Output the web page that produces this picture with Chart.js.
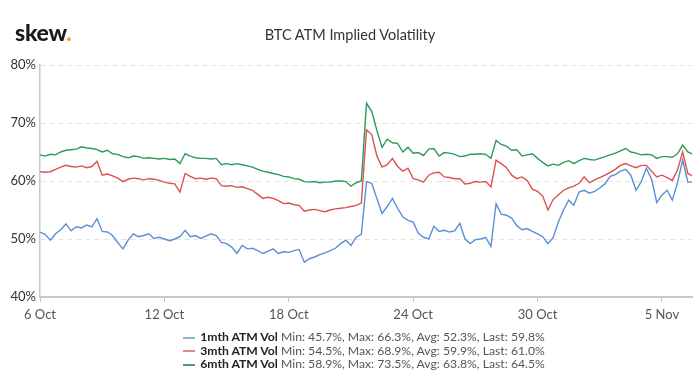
<!DOCTYPE html>
<html>
<head>
<meta charset="utf-8">
<script src="https://cdn.jsdelivr.net/npm/chart.js@4.4.0/dist/chart.umd.min.js"></script>
<style>
    html, body { margin: 0; padding: 0; background: #fff; }
    #wrap { position: relative; width: 700px; height: 391px; font-family: Lato, sans-serif; }
    #logo { position: absolute; left: 15px; top: 18px; font-family: Lato, sans-serif; font-weight: 900; font-size: 23px; color: #1a1a1a; letter-spacing: -0.3px; }
    #logo span { color: #f5a623; }
    #title { position: absolute; left: 0; width: 700px; top: 26px; text-align: center; font-size: 14.5px; color: #333; }
    #chartBox { position: absolute; left: 0; top: 0; width: 700px; height: 330px; }
    #legend { position: absolute; left: 0; width: 700px; top: 330px; text-align: center; font-size: 12.2px; color: #555; }
    #legend .row { display: block; line-height: 13.5px; white-space: nowrap; }
    #legend .item { display: inline-block; text-align: left; margin-left: 28px; }
    #legend .mark { display: inline-block; width: 12px; height: 2px; vertical-align: middle; margin-right: 5px; }
    #legend b { color: #222; }
</style>
</head>
<body>
<div id="wrap">
    <div id="chartBox"><canvas id="volChart" width="700" height="330"></canvas></div>
    <div id="logo">skew<span>.</span></div>
    <div id="title">BTC ATM Implied Volatility</div>
    <div id="legend"></div>
</div>
<script>
// days since 6 Oct, sampled every 6 hours
const dayStep = 0.25;

const oneMth = [
    51.2, 50.8, 49.8, 50.9, 51.6, 52.6, 51.4, 52.1, 51.9, 52.4, 52.1, 53.5,
    51.3, 51.2, 50.6, 49.4, 48.3, 49.8, 50.9, 50.4, 50.6, 50.9, 50.1, 50.3,
    50.0, 49.7, 50.0, 50.4, 51.5, 50.4, 50.6, 50.1, 50.5, 50.9, 50.6, 49.4,
    49.2, 48.6, 47.5, 48.9, 48.3, 48.4, 48.0, 47.5, 47.9, 48.3, 47.5, 47.8,
    47.7, 48.0, 48.2, 46.0, 46.6, 46.9, 47.3, 47.6, 48.0, 48.4, 49.2, 49.8,
    48.9, 50.3, 50.8, 59.9, 59.6, 57.0, 54.4, 55.6, 57.0, 55.3, 53.8, 53.2,
    52.9, 51.0, 50.3, 50.0, 52.2, 51.3, 51.5, 51.2, 51.4, 52.7, 50.0, 49.2,
    49.9, 50.0, 50.3, 48.7, 56.1, 54.3, 54.1, 53.6, 52.3, 51.6, 51.8, 51.3,
    50.9, 50.4, 49.2, 50.2, 52.9, 55.0, 56.7, 55.8, 58.1, 58.4, 57.9, 58.2,
    58.8, 59.5, 60.8, 61.1, 61.7, 62.0, 61.0, 58.4, 59.9, 62.2, 60.3, 56.3,
    57.6, 58.4, 56.7, 59.7, 63.6, 59.8, 59.8
];

const threeMth = [
    61.6, 61.5, 61.6, 62.0, 62.4, 62.7, 62.5, 62.4, 62.6, 62.3, 62.5, 63.4,
    61.0, 61.2, 60.9, 60.5, 59.9, 60.3, 60.5, 60.4, 60.2, 60.4, 60.3, 60.1,
    59.8, 59.6, 59.5, 58.1, 61.3, 60.8, 60.4, 60.5, 60.3, 60.5, 60.4, 59.2,
    59.1, 59.2, 58.9, 59.0, 58.7, 58.4, 57.7, 57.0, 57.2, 57.0, 56.6, 56.1,
    56.2, 55.9, 55.8, 54.8, 55.0, 55.1, 54.9, 54.7, 55.0, 55.2, 55.3, 55.4,
    55.6, 55.8, 56.2, 68.8, 68.0, 64.3, 62.4, 62.8, 63.9, 62.5, 61.7, 62.2,
    60.4, 60.2, 59.8, 61.0, 61.4, 61.5, 60.7, 60.6, 60.4, 60.4, 59.5, 59.6,
    59.9, 59.8, 59.9, 59.0, 63.6, 63.0, 62.3, 61.0, 60.4, 60.7, 60.1, 58.6,
    58.2, 57.4, 55.0, 56.8, 57.6, 58.4, 58.8, 59.1, 59.6, 60.7, 59.7, 60.2,
    60.6, 61.0, 61.5, 62.0, 62.7, 63.0, 62.6, 62.3, 62.7, 62.7, 61.7, 60.7,
    61.0, 60.6, 60.1, 61.9, 65.0, 61.3, 60.8
];

const sixMth = [
    64.5, 64.3, 64.6, 64.5, 65.0, 65.3, 65.4, 65.5, 65.9, 65.7, 65.6, 65.4,
    65.0, 65.3, 64.7, 64.6, 64.2, 64.0, 64.3, 64.2, 63.9, 64.0, 63.9, 63.8,
    63.9, 63.7, 63.8, 63.0, 64.7, 64.3, 64.0, 63.9, 63.9, 63.8, 63.9, 62.8,
    63.0, 62.8, 63.0, 62.8, 62.6, 62.4, 62.0, 61.7, 61.5, 61.3, 61.1, 60.8,
    60.7, 60.4, 60.3, 59.9, 59.8, 59.9, 59.7, 59.8, 59.8, 60.0, 60.0, 59.9,
    59.1, 59.7, 60.0, 73.4, 72.0, 68.7, 65.8, 67.2, 66.6, 66.5, 65.0, 65.8,
    64.8, 64.9, 64.4, 65.5, 65.6, 64.3, 64.9, 64.8, 64.6, 64.2, 64.3, 64.6,
    64.6, 64.7, 64.6, 63.9, 67.0, 66.3, 66.0, 65.3, 65.4, 64.3, 64.5, 64.7,
    63.9, 63.2, 62.6, 62.9, 62.7, 63.2, 63.5, 63.0, 63.5, 63.9, 63.7, 63.6,
    63.9, 64.2, 64.5, 64.8, 65.2, 65.6, 65.0, 64.8, 64.5, 64.6, 64.5, 63.9,
    64.2, 64.2, 64.1, 64.7, 66.2, 65.0, 64.6
];

const seriesNames = ['1mth ATM Vol', '3mth ATM Vol', '6mth ATM Vol'];
const seriesStats = [
    'Min: 45.7%, Max: 66.3%, Avg: 52.3%, Last: 59.8%',
    'Min: 54.5%, Max: 68.9%, Avg: 59.9%, Last: 61.0%',
    'Min: 58.9%, Max: 73.5%, Avg: 63.8%, Last: 64.5%'
];
const seriesColors = ['#5b8fd6', '#d9534f', '#2e9a5a'];
const legendMarkColors = ['#8fb4d6', '#d98a8a', '#4f9a86'];

const xTickDays = [0, 6, 12, 18, 24, 30];
const xTickLabels = ['6 Oct', '12 Oct', '18 Oct', '24 Oct', '30 Oct', '5 Nov'];
const yTicks = [40, 50, 60, 70, 80];

function toPoints(vals) {
    return vals.map(function(v, i) { return { x: i * dayStep, y: v }; });
}

const ctx = document.getElementById('volChart').getContext('2d');
const volChart = new Chart(ctx, {
    type: 'line',
    data: {
        datasets: [oneMth, threeMth, sixMth].map(function(vals, i) {
            return {
                label: seriesNames[i],
                data: toPoints(vals),
                borderColor: seriesColors[i],
                borderWidth: 1.4,
                pointRadius: 0,
                tension: 0,
                fill: false
            };
        })
    },
    options: {
        responsive: false,
        animation: false,
        layout: { padding: { top: 65, right: 8, left: 0, bottom: 0 } },
        plugins: {
            legend: { display: false },
            tooltip: { enabled: false }
        },
        scales: {
            x: {
                type: 'linear',
                min: 0,
                max: 31.45,
                afterBuildTicks: function(scale) {
                    scale.ticks = xTickDays.map(function(d) { return { value: d }; });
                },
                afterFit: function(scale) { scale.height = 33; },
                ticks: {
                    autoSkip: false,
                    maxRotation: 0,
                    padding: 5,
                    color: '#555',
                    font: { family: 'Lato', size: 13 },
                    callback: function(value) {
                        const idx = xTickDays.indexOf(value);
                        return idx >= 0 ? xTickLabels[idx] : '';
                    }
                },
                grid: { drawOnChartArea: false, drawTicks: true, tickLength: 5, color: '#c8c8c8' },
                border: { display: true, color: '#c8c8c8', width: 2 }
            },
            y: {
                min: 40,
                max: 80,
                afterBuildTicks: function(scale) {
                    scale.ticks = yTicks.map(function(v) { return { value: v }; });
                },
                afterFit: function(scale) { scale.width = 40; },
                ticks: {
                    padding: 4,
                    color: '#333',
                    font: { family: 'Lato', size: 13 },
                    callback: function(value) { return value + '%'; }
                },
                grid: { drawTicks: false, color: '#e2e2e2', lineWidth: 1 },
                border: { display: true, color: '#c8c8c8', width: 1.5, dash: [5, 4] }
            }
        }
    }
});

// legend below the chart, bold series name then the stats
const legendEl = document.getElementById('legend');
const itemBox = document.createElement('div');
itemBox.className = 'item';
seriesNames.forEach(function(name, i) {
    const row = document.createElement('span');
    row.className = 'row';
    row.innerHTML = '<span class="mark" style="background:' + legendMarkColors[i] + '"></span>' +
        '<b>' + name + '</b> ' + seriesStats[i];
    itemBox.appendChild(row);
});
legendEl.appendChild(itemBox);
</script>
</body>
</html>
